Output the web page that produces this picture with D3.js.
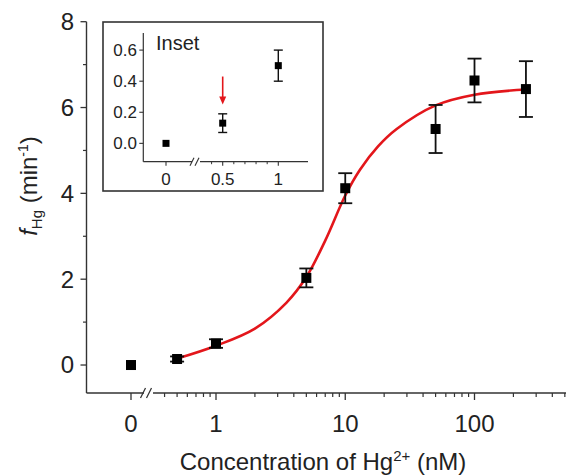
<!DOCTYPE html>
<html>
<head>
<meta charset="utf-8">
<script src="https://cdn.jsdelivr.net/npm/d3@7"></script>
<style>
  html, body { margin: 0; padding: 0; background: #fff; }
  svg { display: block; font-family: "Liberation Sans", Arial, sans-serif; }
</style>
</head>
<body>
<svg id="chart" width="566" height="475"></svg>
<script>
// ---------- data ----------
const mainConc = [0, 0.5, 1, 5, 10, 50, 100, 250];
const mainVal  = [0, 0.14, 0.5, 2.03, 4.12, 5.5, 6.63, 6.43];
const mainErr  = [0, 0.06, 0.1, 0.22, 0.35, 0.56, 0.51, 0.65];

const fitConc = [0.5, 1, 2, 3.5, 5, 7, 10, 13, 18, 25, 50, 100, 250];
const fitVal  = [0.15, 0.45, 0.85, 1.45, 2.05, 2.9, 3.95, 4.55, 5.1, 5.5, 6.05, 6.3, 6.42];

const yMajorTicks = [0, 2, 4, 6, 8];
const yMinorTicks = [1, 3, 5, 7];
const xMajorTicks = [1, 10, 100];
const xMajorLabels = ["1", "10", "100"];
const xMinorTicks = [0.4, 0.5, 0.6, 0.7, 0.8, 0.9, 2, 3, 4, 5, 6, 7, 8, 9, 20, 30, 40, 50, 60, 70, 80, 90, 200, 300, 400, 500];

const insetConc = [0, 0.5, 1];
const insetVal  = [0, 0.13, 0.5];
const insetErr  = [0, 0.06, 0.1];
const insetYTicks = [0, 0.2, 0.4, 0.6];
const insetYLabels = ["0.0", "0.2", "0.4", "0.6"];
const insetXTicks = [0, 0.5, 1];
const insetXLabels = ["0", "0.5", "1"];
const insetXMinor = [0.4, 0.6, 0.7, 0.8, 0.9];
const arrowConc = 0.5, arrowFrom = 0.43, arrowTo = 0.25;

// ---------- layout ----------
const svg = d3.select("#chart");
const axisColor = "#333";
const red = "#e3161b";

const axL = 86.5, axB = 393, axT = 21.7, axR = 566;
const y = d3.scaleLinear().domain([-0.652, 8]).range([axB, axT]);
const xLog = d3.scaleLog().domain([1, 100]).range([216, 474.5]);
const xZeroPos = 131;
const xPos = c => c === 0 ? xZeroPos : xLog(c);

const g = svg.append("g");

// axes lines
g.append("line").attr("x1", axL).attr("x2", axL).attr("y1", axT).attr("y2", axB)
  .attr("stroke", axisColor).attr("stroke-width", 1.4);
g.append("line").attr("x1", axL).attr("x2", 144).attr("y1", axB).attr("y2", axB)
  .attr("stroke", axisColor).attr("stroke-width", 1.4);
g.append("line").attr("x1", 153).attr("x2", axR).attr("y1", axB).attr("y2", axB)
  .attr("stroke", axisColor).attr("stroke-width", 1.4);
// break marks
[143, 149].forEach(bx => {
  g.append("line").attr("x1", bx - 2.5).attr("x2", bx + 2.5).attr("y1", axB + 5).attr("y2", axB - 5)
    .attr("stroke", axisColor).attr("stroke-width", 1.3);
});

// y ticks
yMajorTicks.forEach(v => {
  g.append("line").attr("x1", axL - 6).attr("x2", axL).attr("y1", y(v)).attr("y2", y(v))
    .attr("stroke", axisColor).attr("stroke-width", 1.3);
  g.append("text").attr("x", 74).attr("y", y(v)).attr("dy", "0.35em")
    .attr("text-anchor", "end").attr("font-size", 24).attr("fill", "#222").text(v);
});
yMinorTicks.forEach(v => {
  g.append("line").attr("x1", axL - 3.5).attr("x2", axL).attr("y1", y(v)).attr("y2", y(v))
    .attr("stroke", axisColor).attr("stroke-width", 1.2);
});

// x ticks
g.append("line").attr("x1", xZeroPos).attr("x2", xZeroPos).attr("y1", axB).attr("y2", axB + 7)
  .attr("stroke", axisColor).attr("stroke-width", 1.3);
g.append("text").attr("x", xZeroPos).attr("y", 431.5).attr("text-anchor", "middle")
  .attr("font-size", 24).attr("fill", "#222").text("0");
xMajorTicks.forEach((v, i) => {
  g.append("line").attr("x1", xLog(v)).attr("x2", xLog(v)).attr("y1", axB).attr("y2", axB + 7)
    .attr("stroke", axisColor).attr("stroke-width", 1.3);
  g.append("text").attr("x", xLog(v)).attr("y", 431.5).attr("text-anchor", "middle")
    .attr("font-size", 24).attr("fill", "#222").text(xMajorLabels[i]);
});
xMinorTicks.forEach(v => {
  const px = xLog(v);
  if (px < axR) g.append("line").attr("x1", px).attr("x2", px).attr("y1", axB).attr("y2", axB + 4)
    .attr("stroke", axisColor).attr("stroke-width", 1.2);
});

// axis titles
const xt = g.append("text").attr("x", 323).attr("y", 470).attr("text-anchor", "middle")
  .attr("font-size", 24).attr("fill", "#222");
xt.append("tspan").text("Concentration of Hg");
xt.append("tspan").attr("font-size", 15).attr("dy", -9).text("2+");
xt.append("tspan").attr("dy", 9).text(" (nM)");

const yt = g.append("text").attr("transform", "translate(37,186) rotate(-90)")
  .attr("text-anchor", "middle").attr("font-size", 24).attr("fill", "#222");
yt.append("tspan").attr("font-style", "italic").text("f");
yt.append("tspan").attr("font-size", 15).attr("dy", 5).text("Hg");
yt.append("tspan").attr("dy", -5).text(" (min");
yt.append("tspan").attr("font-size", 14).attr("dy", -9).text("-1");
yt.append("tspan").attr("dy", 9).text(")");

// fitted curve
const line = d3.line().x((d, i) => xLog(fitConc[i])).y((d) => y(d)).curve(d3.curveCatmullRom.alpha(0.5));
g.append("path").attr("d", line(fitVal)).attr("fill", "none").attr("stroke", red).attr("stroke-width", 2.6);

// error bars & points
mainConc.forEach((c, i) => {
  const px = xPos(c);
  if (mainErr[i] > 0) {
    const top = y(mainVal[i] + mainErr[i]), bot = y(mainVal[i] - mainErr[i]);
    g.append("line").attr("x1", px).attr("x2", px).attr("y1", top).attr("y2", bot)
      .attr("stroke", "#111").attr("stroke-width", 1.8);
    [top, bot].forEach(yy => g.append("line").attr("x1", px - 7).attr("x2", px + 7)
      .attr("y1", yy).attr("y2", yy).attr("stroke", "#111").attr("stroke-width", 1.8));
  }
  g.append("rect").attr("x", px - 5).attr("y", y(mainVal[i]) - 5).attr("width", 10).attr("height", 10)
    .attr("fill", "#000");
});

// ---------- inset ----------
const ins = svg.append("g");
ins.append("rect").attr("x", 103).attr("y", 22).attr("width", 220).attr("height", 169)
  .attr("fill", "#fff").attr("stroke", axisColor).attr("stroke-width", 1.6);

const iy = d3.scaleLinear().domain([-0.118, 0.71]).range([161.7, 33]);
const ixLin = d3.scaleLinear().domain([0.5, 1]).range([222.7, 278.3]);
const ixZero = 166;
const ixPos = c => c === 0 ? ixZero : ixLin(c);
const iL = 143.3, iB = 161.7, iR = 308;

ins.append("line").attr("x1", iL).attr("x2", iL).attr("y1", 33).attr("y2", iB)
  .attr("stroke", axisColor).attr("stroke-width", 1.2);
ins.append("line").attr("x1", iL).attr("x2", 192).attr("y1", iB).attr("y2", iB)
  .attr("stroke", axisColor).attr("stroke-width", 1.2);
ins.append("line").attr("x1", 200).attr("x2", iR).attr("y1", iB).attr("y2", iB)
  .attr("stroke", axisColor).attr("stroke-width", 1.2);
[192, 197].forEach(bx => {
  ins.append("line").attr("x1", bx - 2).attr("x2", bx + 2).attr("y1", iB + 4).attr("y2", iB - 4)
    .attr("stroke", axisColor).attr("stroke-width", 1.1);
});

insetYTicks.forEach((v, i) => {
  ins.append("line").attr("x1", iL - 4).attr("x2", iL).attr("y1", iy(v)).attr("y2", iy(v))
    .attr("stroke", axisColor).attr("stroke-width", 1.1);
  ins.append("text").attr("x", 137).attr("y", iy(v)).attr("dy", "0.35em").attr("text-anchor", "end")
    .attr("font-size", 17).attr("fill", "#222").text(insetYLabels[i]);
});
insetXTicks.forEach((v, i) => {
  ins.append("line").attr("x1", ixPos(v)).attr("x2", ixPos(v)).attr("y1", iB).attr("y2", iB + 4)
    .attr("stroke", axisColor).attr("stroke-width", 1.1);
  ins.append("text").attr("x", ixPos(v)).attr("y", 184.5).attr("text-anchor", "middle")
    .attr("font-size", 17).attr("fill", "#222").text(insetXLabels[i]);
});
insetXMinor.forEach(v => {
  ins.append("line").attr("x1", ixLin(v)).attr("x2", ixLin(v)).attr("y1", iB).attr("y2", iB + 2.5)
    .attr("stroke", axisColor).attr("stroke-width", 1);
});

ins.append("text").attr("x", 156).attr("y", 50).attr("font-size", 20).attr("fill", "#222").text("Inset");

insetConc.forEach((c, i) => {
  const px = ixPos(c);
  if (insetErr[i] > 0) {
    const top = iy(insetVal[i] + insetErr[i]), bot = iy(insetVal[i] - insetErr[i]);
    ins.append("line").attr("x1", px).attr("x2", px).attr("y1", top).attr("y2", bot)
      .attr("stroke", "#111").attr("stroke-width", 1.4);
    [top, bot].forEach(yy => ins.append("line").attr("x1", px - 4.5).attr("x2", px + 4.5)
      .attr("y1", yy).attr("y2", yy).attr("stroke", "#111").attr("stroke-width", 1.4));
  }
  ins.append("rect").attr("x", px - 3.5).attr("y", iy(insetVal[i]) - 3.5).attr("width", 7).attr("height", 7)
    .attr("fill", "#000");
});

// red arrow
const ax = ixLin(arrowConc);
ins.append("line").attr("x1", ax).attr("x2", ax).attr("y1", iy(arrowFrom)).attr("y2", iy(arrowTo) - 6)
  .attr("stroke", red).attr("stroke-width", 1.6);
ins.append("path")
  .attr("d", `M${ax - 3.5},${iy(arrowTo) - 8} L${ax},${iy(arrowTo)} L${ax + 3.5},${iy(arrowTo) - 8} Z`)
  .attr("fill", red);
</script>
</body>
</html>
